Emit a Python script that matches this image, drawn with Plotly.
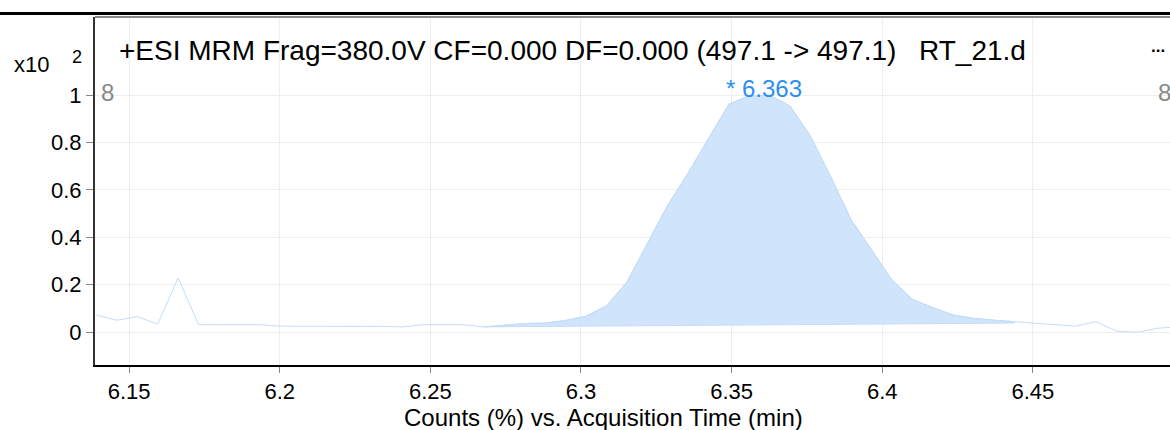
import plotly.graph_objects as go

# Acquisition time (min) and relative counts (x10^2)
times = [6.1392, 6.1460, 6.1528, 6.1595, 6.1663, 6.1731, 6.1798, 6.1866, 6.1934, 6.2001,
         6.2069, 6.2137, 6.2205, 6.2272, 6.2340, 6.2408, 6.2475, 6.2543, 6.2611, 6.2678,
         6.2746, 6.2814, 6.2881, 6.2949, 6.3017, 6.3085, 6.3152, 6.3220, 6.3288, 6.3355,
         6.3423, 6.3491, 6.3558, 6.3626, 6.3694, 6.3761, 6.3829, 6.3897, 6.3965, 6.4032,
         6.4100, 6.4168, 6.4235, 6.4303, 6.4371, 6.4438, 6.4506, 6.4574, 6.4642, 6.4709,
         6.4777, 6.4845, 6.4912, 6.4980]
counts = [0.072, 0.050, 0.065, 0.034, 0.228, 0.031, 0.031, 0.031, 0.031, 0.025,
          0.024, 0.024, 0.024, 0.024, 0.024, 0.022, 0.031, 0.031, 0.031, 0.022,
          0.030, 0.036, 0.038, 0.049, 0.067, 0.111, 0.210, 0.372, 0.536, 0.670,
          0.815, 0.962, 0.997, 1.000, 0.954, 0.828, 0.655, 0.473, 0.346, 0.220,
          0.138, 0.103, 0.072, 0.058, 0.050, 0.044, 0.040, 0.033, 0.025, 0.044,
          0.004, -0.001, 0.016, 0.022]

# Integrated peak: start/end times and baseline levels
peak_start, peak_end = 6.2678, 6.4438
baseline_levels = [0.022, 0.038]
peak_label = "* 6.363"

x_ticks = [6.15, 6.2, 6.25, 6.3, 6.35, 6.4, 6.45]
x_tick_text = ["6.15", "6.2", "6.25", "6.3", "6.35", "6.4", "6.45"]
y_ticks = [0, 0.2, 0.4, 0.6, 0.8, 1]
y_tick_text = ["0", "0.2", "0.4", "0.6", "0.8", "1"]

title_text = "+ESI MRM Frag=380.0V CF=0.000 DF=0.000 (497.1 -> 497.1)"
file_text = "RT_21.d"
x_title = "Counts (%) vs. Acquisition Time (min)"

FONT = "Liberation Sans, Arial, sans-serif"
W, H = 1170, 430
L, R, T, B = 95, 0, 17, 65
PW, PH = W - L - R, H - T - B


def px(xp):
    return (xp - L) / PW


def py(yp):
    return (H - B - yp) / PH


# polygon for the filled peak area
poly_x = [t for t in times if peak_start <= t <= peak_end]
poly_y = [c for t, c in zip(times, counts) if peak_start <= t <= peak_end]
poly_x += [peak_end, peak_start]
poly_y += [baseline_levels[1], baseline_levels[0]]

fig = go.Figure()
fig.add_trace(go.Scatter(x=poly_x, y=poly_y, mode="lines", fill="toself",
                         fillcolor="rgb(208,229,251)",
                         line=dict(color="rgb(196,220,248)", width=1),
                         hoverinfo="skip", showlegend=False))
fig.add_trace(go.Scatter(x=times, y=counts, mode="lines",
                         line=dict(color="rgb(196,220,248)", width=1),
                         showlegend=False))

fig.update_layout(
    width=W, height=H,
    margin=dict(l=L, r=R, t=T, b=B),
    paper_bgcolor="white", plot_bgcolor="white",
    font=dict(family=FONT, size=20, color="black"),
    xaxis=dict(range=[6.1387, 6.4955], tickvals=x_ticks, ticktext=x_tick_text,
               showgrid=True, gridcolor="#eeeeee", gridwidth=1,
               ticks="outside", ticklen=6, tickcolor="#888888",
               showline=True, linecolor="black", linewidth=2,
               zeroline=False, tickfont=dict(size=22, family=FONT)),
    yaxis=dict(range=[-0.139, 1.33], tickvals=y_ticks, ticktext=y_tick_text,
               showgrid=True, gridcolor="#eeeeee", gridwidth=1,
               ticks="outside", ticklen=7, tickcolor="#888888",
               showline=True, linecolor="#333333", linewidth=2,
               zeroline=False, tickfont=dict(size=22, family=FONT)),
)

shapes = [
    dict(type="line", xref="paper", yref="paper", x0=px(0), x1=px(W), y0=py(13.5), y1=py(13.5),
         line=dict(color="black", width=3)),
    dict(type="line", xref="paper", yref="paper", x0=0, x1=1, y0=1, y1=1,
         line=dict(color="#888888", width=2)),
]
fig.update_layout(shapes=shapes)

ann = [
    dict(text=title_text, x=px(117), y=py(50), xanchor="left", yanchor="middle",
         font=dict(size=28, color="black")),
    dict(text=file_text, x=px(917), y=py(50), xanchor="left", yanchor="middle",
         font=dict(size=28, color="black")),
    dict(text="<b>...</b>", x=px(1149), y=py(47), xanchor="left", yanchor="middle",
         font=dict(size=17, color="black")),
    dict(text="x10", x=px(12), y=py(64), xanchor="left", yanchor="middle",
         font=dict(size=22, color="black")),
    dict(text="2", x=px(70), y=py(57), xanchor="left", yanchor="middle",
         font=dict(size=18, color="black")),
    dict(text="8", x=px(99), y=py(92), xanchor="left", yanchor="middle",
         font=dict(size=24, color="#888888")),
    dict(text="8", x=px(1156), y=py(92), xanchor="left", yanchor="middle",
         font=dict(size=24, color="#888888")),
    dict(text=peak_label, x=px(764), y=py(89), xanchor="center", yanchor="middle",
         font=dict(size=24, color="#2b8ff0")),
    dict(text=x_title, x=px(603), y=py(417), xanchor="center", yanchor="middle",
         font=dict(size=24, color="black")),
]
for a in ann:
    a.update(xref="paper", yref="paper", showarrow=False)
fig.update_layout(annotations=ann)

fig.write_html("out.html", config={"displayModeBar": False},
               post_script="document.body.style.margin='0';document.body.style.overflow='hidden';")
